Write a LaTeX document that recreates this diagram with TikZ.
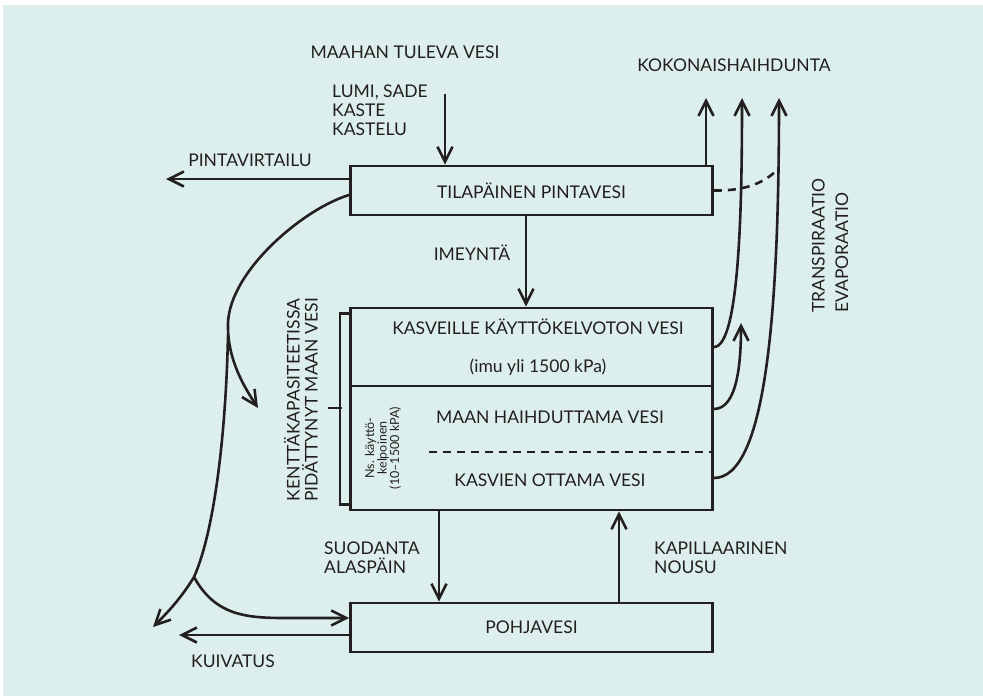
\documentclass[tikz,border=0pt]{standalone}
\usepackage{fontspec}
\setmainfont{Lato}
\usetikzlibrary{positioning,arrows.meta}
\definecolor{taustavari}{HTML}{DDEFEC}
\definecolor{tumma}{HTML}{231F20}

\begin{document}
\begin{tikzpicture}[x=1pt,y=-1pt,
  every node/.style={font=\fontsize{17.5}{19}\selectfont,text=tumma,inner sep=0pt},
  laatikko/.style={draw=tumma,line width=2.8pt},
  yhteys/.style={draw=tumma,line width=2.6pt},
  nuoli/.style={yhteys,-{Straight Barb[length=15pt,width=15pt]}}]
\useasboundingbox (0,0) rectangle (983,696);
\fill[taustavari] (3,5) rectangle (983,696);

\node[laatikko,minimum width=362,minimum height=49] (pinta) at (531.5,190.5) {TILAPÄINEN PINTAVESI};
\node[laatikko,minimum width=362,minimum height=202] (maa) at (531.5,409) {};
\node[laatikko,minimum width=362,minimum height=49] (pohja) at (531.5,627.5) {POHJAVESI};

\draw[laatikko] (maa.west |- 0,386) -- (maa.east |- 0,386);
\draw[yhteys,dash pattern=on 8pt off 6pt] (429,452) -- (maa.east |- 0,452);
\node (kelvoton) at (538,327) {KASVEILLE KÄYTTÖKELVOTON VESI};
\node (imu) at (538,367) {(imu yli 1500 kPa)};
\node (haihd) at (550,417) {MAAN HAIHDUTTAMA VESI};
\node (ottama) at (550,480) {KASVIEN OTTAMA VESI};
\node[rotate=90,align=center,font=\fontsize{12.5}{12.5}\selectfont] (kelpo) at (383,448) {Ns. käyttö-\\kelpoinen\\(10–1500 kPA)};

\draw[yhteys] ([yshift=-7]maa.north west) -| ([xshift=-9,yshift=7]maa.south west) -- ([yshift=7]maa.south west);
\draw[yhteys] (342,408) -- (328,408);
\node[rotate=90,align=center,font=\fontsize{17.5}{18}\selectfont] (kentta) at (301,400) {KENTTÄKAPASITEETISSA\\PIDÄTTYNYT MAAN VESI};

\node (maahan) at (405,52) {MAAHAN TULEVA VESI};
\node[align=left,anchor=west] (lumi) at (332,110) {LUMI, SADE\\KASTE\\KASTELU};
\node (virtailu) at (250,160) {PINTAVIRTAILU};
\node (imeynta) at (472,253) {IMEYNTÄ};
\node (kokonais) at (734,65) {KOKONAISHAIHDUNTA};
\node[rotate=90,anchor=west,align=left,font=\fontsize{17.5}{23.5}\selectfont] (transp) at (830,313) {TRANSPIRAATIO\\EVAPORAATIO};
\node[align=left,anchor=west] (suodanta) at (324,558) {SUODANTA\\ALASPÄIN};
\node[align=left,anchor=west] (kapill) at (654,558) {KAPILLAARINEN\\NOUSU};
\node (kuivatus) at (233,661) {KUIVATUS};

\coordinate (sade) at (445,94);
\coordinate (valuma) at (166,179);
\coordinate (kaari) at (258,408);
\coordinate (haara) at (194,577);
\coordinate (salaoja) at (153,627);
\coordinate (kuiva) at (179,635);
\coordinate (haihtu1) at (706,98);
\coordinate (haihtu2) at (742,98);
\coordinate (haihtu3) at (779,98);
\coordinate (kasvi) at (741,323);
\coordinate (liitos) at (779,168);

\draw[nuoli] (sade) -- (sade |- pinta.north);
\draw[nuoli] ([yshift=11.5]pinta.west) -- (valuma);
\draw[nuoli] ([xshift=-5.5]pinta.south) -- ([xshift=-5.5]maa.north);
\draw[nuoli] ([yshift=-4.5]pinta.west) .. controls (305,208) and (230,270) .. (228,323)
  .. controls (227,360) and (245,388) .. (kaari);
\draw[yhteys] (228,335) .. controls (226,430) and (215,530) .. (haara);
\draw[nuoli] (haara) .. controls (180,600) and (165,615) .. (salaoja);
\draw[nuoli] (haara) .. controls (215,615) and (245,618) .. (285,618) -- ([yshift=9.5]pohja.west);
\draw[nuoli] ([yshift=-7.5]pohja.west) -- (kuiva);
\draw[nuoli] ([xshift=-92.5]maa.south) -- ([xshift=-92.5]pohja.north);
\draw[nuoli] ([xshift=87.5]pohja.north) -- ([xshift=87.5]maa.south);

\draw[nuoli] ([xshift=174.5]pinta.north) -- (haihtu1);
\draw[nuoli] ([yshift=62]maa.east) .. controls (740,347) and (742,200) .. (haihtu2);
\draw[nuoli] (maa.east) .. controls (738,409) and (741,360) .. (kasvi);
\draw[nuoli] ([yshift=-69]maa.east) .. controls (765,478) and (779,320) .. (haihtu3);
\draw[yhteys,dash pattern=on 8pt off 6pt] (pinta.east) .. controls (745,191) and (765,183) .. (liitos);
\end{tikzpicture}
\end{document}
